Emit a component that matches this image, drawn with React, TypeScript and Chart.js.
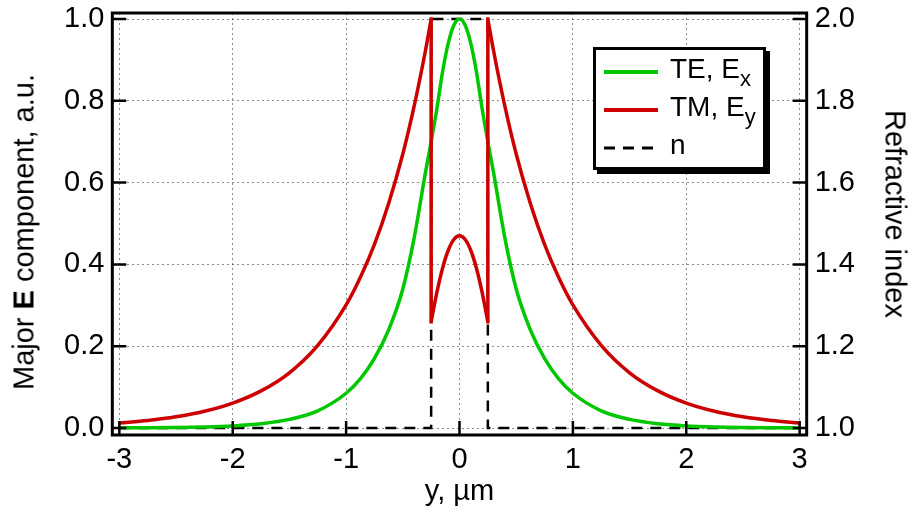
import React, { useEffect, useRef } from 'react';
import { Chart, registerables } from 'chart.js';

Chart.register(...registerables);

const FONT = '"Liberation Sans", Arial, Helvetica, sans-serif';

// Axis ranges (frame slightly larger than the data range)
const X_MIN = -3.062;
const X_MAX = 3.062;
const Y_MIN = -0.0171;
const Y_MAX = 1.0147;
const N_MIN = 0.9829;
const N_MAX = 2.0147;

// Tick values
const X_TICKS = [-3, -2, -1, 0, 1, 2, 3];
const Y_TICKS = [0, 0.2, 0.4, 0.6, 0.8, 1.0];
const N_TICKS = [1.0, 1.2, 1.4, 1.6, 1.8, 2.0];

// TE mode, Ex
const TE_X = [-3, -2.75, -2.5, -2.25, -2, -1.75, -1.5, -1.25, -1, -0.875, -0.75, -0.625, -0.5, -0.4, -0.3, -0.25, -0.2, -0.15, -0.1, -0.05, 0, 0.05, 0.1, 0.15, 0.2, 0.25, 0.3, 0.4, 0.5, 0.625, 0.75, 0.875, 1, 1.25, 1.5, 1.75, 2, 2.25, 2.5, 2.75, 3];
const TE_Y = [0.0003, 0.0006, 0.0013, 0.0026, 0.0052, 0.0105, 0.021, 0.042, 0.085, 0.12, 0.17, 0.24, 0.34, 0.465, 0.625, 0.70, 0.78, 0.87, 0.94, 0.985, 1.0, 0.985, 0.94, 0.87, 0.78, 0.70, 0.625, 0.465, 0.34, 0.24, 0.17, 0.12, 0.085, 0.042, 0.021, 0.0105, 0.0052, 0.0026, 0.0013, 0.0006, 0.0003];

// TM mode, Ey : outer cladding (left and right), core region, and the jumps at the interfaces
const TM_LEFT_X = [-3, -2.75, -2.5, -2.25, -2, -1.75, -1.5, -1.25, -1, -0.875, -0.75, -0.625, -0.5, -0.4, -0.3, -0.25];
const TM_LEFT_Y = [0.0123, 0.0183, 0.0273, 0.0408, 0.0608, 0.0907, 0.135, 0.202, 0.301, 0.368, 0.449, 0.549, 0.670, 0.787, 0.923, 1.0];
const TM_CORE_X = [-0.25, -0.2, -0.15, -0.1, -0.05, 0, 0.05, 0.1, 0.15, 0.2, 0.25];
const TM_CORE_Y = [0.26, 0.331, 0.39, 0.434, 0.461, 0.47, 0.461, 0.434, 0.39, 0.331, 0.26];
const TM_RIGHT_X = [0.25, 0.3, 0.4, 0.5, 0.625, 0.75, 0.875, 1, 1.25, 1.5, 1.75, 2, 2.25, 2.5, 2.75, 3];
const TM_RIGHT_Y = [1.0, 0.923, 0.787, 0.670, 0.549, 0.449, 0.368, 0.301, 0.202, 0.135, 0.0907, 0.0608, 0.0408, 0.0273, 0.0183, 0.0123];
const TM_JUMP_L_X = [-0.25, -0.25];
const TM_JUMP_L_Y = [1.0, 0.26];
const TM_JUMP_R_X = [0.25, 0.25];
const TM_JUMP_R_Y = [0.26, 1.0];

// Refractive index profile
const N_X = [-3, -0.25, -0.25, 0.25, 0.25, 3];
const N_Y = [1.0, 1.0, 2.0, 2.0, 1.0, 1.0];

const GREEN = '#00c800';
const RED = '#cc0000';

const pts = (xs: number[], ys: number[]) => xs.map((x, i) => ({ x, y: ys[i] }));

const framePlugin = {
  id: 'frameTicks',
  afterDraw(chart: any) {
    const { ctx, chartArea: a, scales } = chart;
    ctx.save();
    ctx.strokeStyle = '#000';
    ctx.lineWidth = 2.5;
    ctx.beginPath();
    for (const v of X_TICKS) {
      const px = scales.x.getPixelForValue(v);
      ctx.moveTo(px, a.bottom);
      ctx.lineTo(px, a.bottom - 14);
    }
    for (const v of Y_TICKS) {
      const py = scales.y.getPixelForValue(v);
      ctx.moveTo(a.left, py);
      ctx.lineTo(a.left + 14, py);
    }
    for (const v of N_TICKS) {
      const py = scales.y2.getPixelForValue(v);
      ctx.moveTo(a.right, py);
      ctx.lineTo(a.right - 14, py);
    }
    ctx.stroke();
    ctx.lineWidth = 3;
    ctx.strokeRect(a.left, a.top, a.right - a.left, a.bottom - a.top);
    ctx.restore();
  },
};

const zeroPad = (s: any) => {
  s.paddingTop = 0;
  s.paddingBottom = 0;
  s.paddingLeft = 0;
  s.paddingRight = 0;
};

export default function App() {
  const ref = useRef<HTMLCanvasElement | null>(null);

  useEffect(() => {
    if (!ref.current) return;
    const tickFont = { family: FONT, size: 29, lineHeight: 1 };
    const gridCommon = { color: 'rgba(0,0,0,0.45)', lineWidth: 1, drawTicks: false };
    const line = (data: any[], color: string, order: number, extra: any = {}) => ({
      data,
      borderColor: color,
      backgroundColor: color,
      borderWidth: 3.5,
      pointRadius: 0,
      fill: false,
      clip: false,
      order,
      ...extra,
    });
    const smooth = { yAxisID: 'y', cubicInterpolationMode: 'monotone' };
    const straight = { yAxisID: 'y', tension: 0, borderCapStyle: 'square' };
    const chart = new Chart(ref.current, {
      type: 'line',
      data: {
        datasets: [
          line(pts(N_X, N_Y), '#000', 3, { yAxisID: 'y2', borderWidth: 2.5, borderDash: [11, 8], tension: 0 }),
          line(pts(TE_X, TE_Y), GREEN, 2, smooth),
          line(pts(TM_LEFT_X, TM_LEFT_Y), RED, 1, smooth),
          line(pts(TM_CORE_X, TM_CORE_Y), RED, 1, smooth),
          line(pts(TM_RIGHT_X, TM_RIGHT_Y), RED, 1, smooth),
          line(pts(TM_JUMP_L_X, TM_JUMP_L_Y), RED, 1, straight),
          line(pts(TM_JUMP_R_X, TM_JUMP_R_Y), RED, 1, straight),
        ],
      },
      options: {
        animation: false,
        responsive: false,
        devicePixelRatio: 1,
        layout: { padding: { left: 56, right: 45, top: 13, bottom: 0 } },
        plugins: { legend: { display: false }, tooltip: { enabled: false } },
        scales: {
          x: {
            type: 'linear',
            min: X_MIN,
            max: X_MAX,
            bounds: 'data',
            afterBuildTicks: (s: any) => { s.ticks = X_TICKS.map((value) => ({ value })); },
            afterFit: zeroPad,
            ticks: { autoSkip: false, maxRotation: 0, padding: 10.5, color: '#000', font: tickFont, callback: (v: any) => String(v) },
            grid: gridCommon,
            border: { display: false, dash: [2, 3] },
            title: { display: true, text: 'y, µm', color: '#000', font: { family: FONT, size: 29, lineHeight: 0.5 }, padding: { top: 0, bottom: 14.5 } },
          },
          y: {
            type: 'linear',
            position: 'left',
            min: Y_MIN,
            max: Y_MAX,
            bounds: 'data',
            afterBuildTicks: (s: any) => { s.ticks = Y_TICKS.map((value) => ({ value })); },
            afterFit: zeroPad,
            ticks: { padding: 8, color: '#000', font: tickFont, callback: (v: any) => Number(v).toFixed(1) },
            grid: gridCommon,
            border: { display: false, dash: [2, 3] },
          },
          y2: {
            type: 'linear',
            position: 'right',
            min: N_MIN,
            max: N_MAX,
            bounds: 'data',
            afterBuildTicks: (s: any) => { s.ticks = N_TICKS.map((value) => ({ value })); },
            afterFit: zeroPad,
            ticks: { padding: 8, color: '#000', font: tickFont, callback: (v: any) => Number(v).toFixed(1) },
            grid: { display: false, drawTicks: false },
            border: { display: false },
          },
        },
      } as any,
      plugins: [framePlugin],
    });
    return () => chart.destroy();
  }, []);

  const textStyle: React.CSSProperties = {
    position: 'absolute',
    fontFamily: FONT,
    fontSize: 28,
    lineHeight: '28px',
    whiteSpace: 'nowrap',
    color: '#000',
  };
  const sub: React.CSSProperties = { fontSize: 22, verticalAlign: '-8px', lineHeight: 1 };

  return (
    <div style={{ position: 'fixed', left: 0, top: 0, width: 908, height: 514, background: '#fff' }}>
      <canvas ref={ref} width={908} height={514} style={{ display: 'block', width: 908, height: 514 }} />
      <div
        style={{
          position: 'absolute', left: 24, top: 232, fontFamily: FONT, fontSize: 29, lineHeight: '29px',
          whiteSpace: 'nowrap', transform: 'translate(-50%,-50%) rotate(-90deg)', color: '#000',
        }}
      >
        Major <b>E</b> component, a.u.
      </div>
      <div
        style={{
          position: 'absolute', left: 895, top: 214, fontFamily: FONT, fontSize: 29, lineHeight: '29px',
          whiteSpace: 'nowrap', transform: 'translate(-50%,-50%) rotate(90deg)', color: '#000',
        }}
      >
        Refractive index
      </div>
      <div
        style={{
          position: 'absolute', left: 593, top: 47, width: 173, height: 123, boxSizing: 'border-box',
          border: '3px solid #000', background: '#fff', boxShadow: '4px 4px 0 #000',
        }}
      >
        <svg style={{ position: 'absolute', left: 8, top: 0 }} width={54} height={120}>
          <line x1={0} x2={54} y1={22} y2={22} stroke={GREEN} strokeWidth={4} />
          <line x1={0} x2={54} y1={60} y2={60} stroke={RED} strokeWidth={4} />
          <line x1={0} x2={54} y1={98} y2={98} stroke="#000" strokeWidth={3} strokeDasharray="11 8" />
        </svg>
        <div style={{ ...textStyle, left: 74, top: 4.6 }}>
          TE, E<span style={sub}>x</span>
        </div>
        <div style={{ ...textStyle, left: 74, top: 42.8 }}>
          TM, E<span style={sub}>y</span>
        </div>
        <div style={{ ...textStyle, left: 74, top: 80.8 }}>n</div>
      </div>
    </div>
  );
}
